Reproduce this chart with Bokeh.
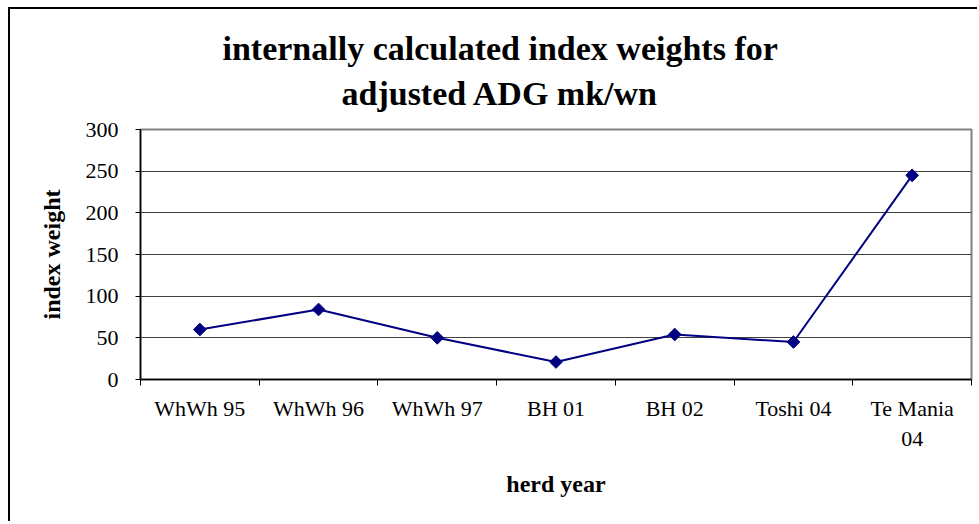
import numpy as np
from bokeh.plotting import figure
from bokeh.models import FixedTicker, Title, Range1d
from bokeh.embed import file_html
from bokeh.resources import INLINE

# ---- data ----
categories = ["WhWh 95", "WhWh 96", "WhWh 97", "BH 01", "BH 02", "Toshi 04", "Te Mania 04"]
tick_labels = ["WhWh 95", "WhWh 96", "WhWh 97", "BH 01", "BH 02", "Toshi 04", "Te Mania\n04"]
index_weight = [60, 84, 50, 21, 54, 45, 245]
y_ticks = [0, 50, 100, 150, 200, 250, 300]
title_lines = ["internally calculated index weights for", "adjusted ADG mk/wn"]
x_title = "herd year"
y_title = "index weight"

FONT = "Liberation Serif"
NAVY = "#000080"

W, H = 969, 514
BL, BT, BR, BB = 130, 120, 8, 144
n = len(categories)
ymax = y_ticks[-1]

p = figure(width=W, height=H, output_backend="svg", toolbar_location=None,
           x_range=Range1d(0, n), y_range=Range1d(0, ymax),
           min_border_left=BL, min_border_top=BT, min_border_right=BR,
           min_border_bottom=BB, background_fill_color="white",
           border_fill_color="white", title=None)
# outer chart border: only its left and top edges are inside the picture
p.styles = {"margin-left": "10px", "margin-top": "9px",
            "box-shadow": "-2px -2px 0 0 black"}

xs = [i + 0.5 for i in range(n)]
p.line(xs, index_weight, line_color=NAVY, line_width=2)
p.scatter(xs, index_weight, marker="square", angle=np.pi / 4, size=9,
          fill_color=NAVY, line_color=NAVY)

# frame
p.outline_line_color = "#808080"
p.outline_line_width = 2

# grid
p.xgrid.visible = False
p.ygrid.ticker = FixedTicker(ticks=y_ticks)
p.ygrid.grid_line_color = "#404040"
p.ygrid.grid_line_width = 1

# x axis
xa = p.xaxis[0]
xa.ticker = FixedTicker(ticks=xs, minor_ticks=list(range(n + 1)))
xa.major_label_overrides = {x: lab for x, lab in zip(xs, tick_labels)}
xa.major_tick_line_color = None
xa.major_tick_out = 6
xa.major_tick_in = 0
xa.minor_tick_line_color = "black"
xa.minor_tick_out = 6
xa.minor_tick_in = 0
xa.axis_line_color = "black"
xa.axis_line_width = 1.5
xa.major_label_standoff = 10
xa.major_label_text_font = FONT
xa.major_label_text_font_size = "22px"
xa.major_label_text_color = "black"
xa.major_label_text_line_height = 1.2
xa.axis_label = x_title
xa.axis_label_text_font = FONT
xa.axis_label_text_font_style = "bold"
xa.axis_label_text_font_size = "24px"
xa.axis_label_text_color = "black"
xa.axis_label_standoff = 17

# y axis
ya = p.yaxis[0]
ya.ticker = FixedTicker(ticks=y_ticks)
ya.minor_tick_line_color = None
ya.major_tick_out = 5
ya.major_tick_in = 0
ya.major_tick_line_color = "black"
ya.axis_line_color = "black"
ya.axis_line_width = 1.5
ya.major_label_standoff = 17
ya.major_label_text_font = FONT
ya.major_label_text_font_size = "22px"
ya.major_label_text_color = "black"
ya.axis_label = y_title
ya.axis_label_text_font = FONT
ya.axis_label_text_font_style = "bold"
ya.axis_label_text_font_size = "24px"
ya.axis_label_text_color = "black"
ya.axis_label_standoff = 18

# title: two lines, added nearest-to-frame first
for line, off, st in zip(reversed(title_lines), [201, 82], [36, -24]):
    p.add_layout(Title(text=line, align="left", offset=off, standoff=st,
                       text_font=FONT, text_font_style="bold",
                       text_font_size="34px", text_line_height=1.1,
                       text_color="black"), "above")

open("out.html", "w").write(file_html(p, INLINE))
